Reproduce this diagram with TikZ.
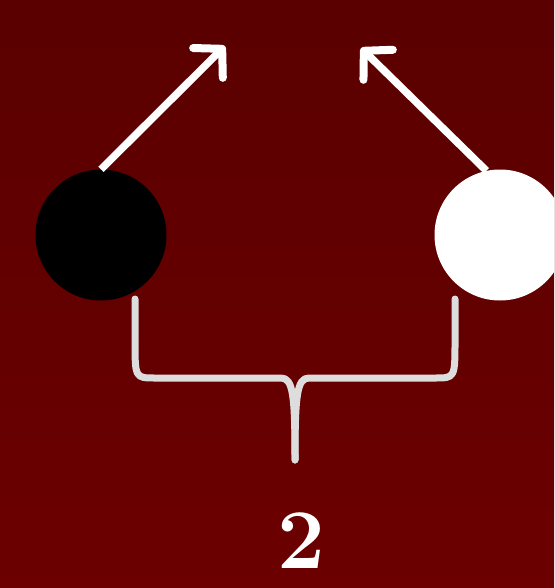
\documentclass[tikz,border=0pt]{standalone}
\usetikzlibrary{arrows.meta}
\definecolor{bgtop}{RGB}{90,0,0}
\definecolor{bgbot}{RGB}{108,0,0}
\definecolor{bracegray}{RGB}{221,221,221}
\begin{document}
\begin{tikzpicture}[x=1pt,y=-1pt,
  ball/.style={circle,inner sep=0pt,minimum size=131pt},
  pointer/.style={white,line width=7.5pt,-{Straight Barb[length=20pt,width=42pt,line width=8pt,round]}},
  bracepath/.style={bracegray,line width=7pt,line cap=round,line join=round}]
\useasboundingbox (0,0) rectangle (554,588);
\clip (0,0) rectangle (554,588);
\shade[top color=bgtop,bottom color=bgbot] (0,0) rectangle (554,588);
\node[ball,fill=black] (a) at (101,235) {};
\node[ball,fill=white] (b) at (500,235) {};
\coordinate (ta) at (225,46);
\coordinate (tb) at (361,48);
\draw[pointer] (a.north) -- (ta);
\draw[pointer] (b.102) -- (tb);
\coordinate (bl) at (135,299);
\coordinate (br) at (455,299);
\coordinate (tip) at (295,460);
\draw[bracepath] (bl) -- (135,340) .. controls (135,378) .. (155,378) -- (281,378)
  .. controls (293,378) and (295,395) .. (tip);
\draw[bracepath] (br) -- (455,340) .. controls (455,378) .. (435,378) -- (309,378)
  .. controls (297,378) and (295,395) .. (tip);
\node[white,anchor=base,inner sep=0pt] (n) at (301,568) {\bfseries\fontsize{85}{85}\selectfont 2};
\end{tikzpicture}
\end{document}
